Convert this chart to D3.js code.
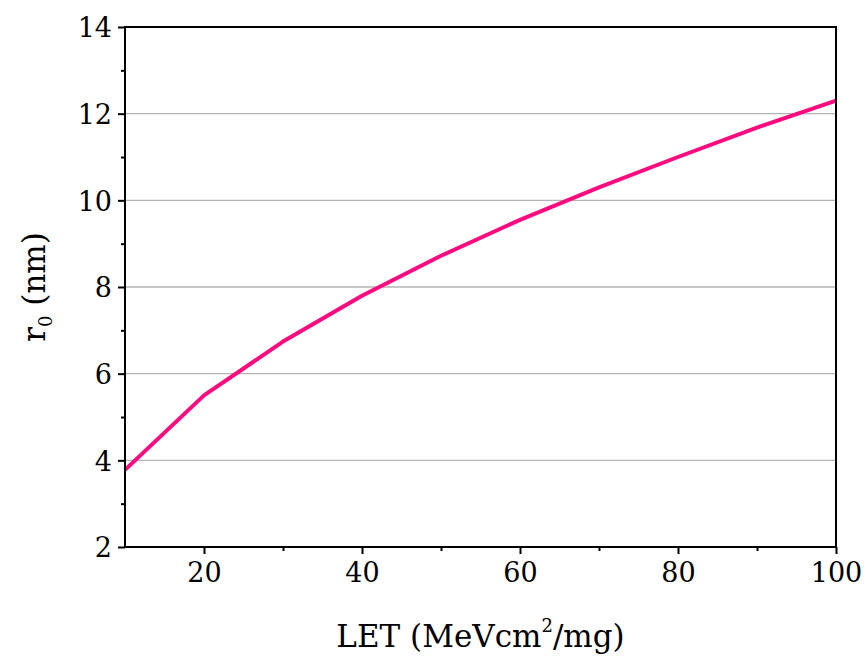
<!DOCTYPE html>
<html><head><meta charset="utf-8">
<script src="https://d3js.org/d3.v7.min.js"></script>
<style>body{margin:0;background:#fff}</style>
</head><body>
<script>
const letValues = [10, 20, 30, 40, 50, 60, 70, 80, 90, 100];
const r0Values = [3.78, 5.5, 6.74, 7.8, 8.72, 9.55, 10.3, 11.0, 11.68, 12.3];
const xTicks = [20, 40, 60, 80, 100];
const xMinor = [30, 50, 70, 90];
const yTicks = [2, 4, 6, 8, 10, 12, 14];
const yMinor = [3, 5, 7, 9, 11, 13];
const gridLines = [4, 6, 8, 10, 12];

const W = 866, H = 658;
const m = {left: 125, right: 30, top: 27, bottom: 111};
const svg = d3.select("body").append("svg").attr("width", W).attr("height", H);
const x = d3.scaleLinear().domain([10, 100]).range([m.left, W - m.right]);
const y = d3.scaleLinear().domain([2, 14]).range([H - m.bottom, m.top]);
const font = "'DejaVu Serif', 'Liberation Serif', serif";

svg.append("g").selectAll("line").data(gridLines).join("line")
  .attr("x1", x(10)).attr("x2", x(100)).attr("y1", d => y(d)).attr("y2", d => y(d))
  .attr("stroke", "#b4b4b4").attr("stroke-width", 1.3);

const line = d3.line().x((d, i) => x(letValues[i])).y(d => y(d));
svg.append("path").datum(r0Values).attr("d", line)
  .attr("fill", "none").attr("stroke", "#ff0a7f").attr("stroke-width", 4).attr("stroke-linejoin", "round");

svg.append("rect").attr("x", x(10)).attr("y", y(14)).attr("width", x(100) - x(10)).attr("height", y(2) - y(14))
  .attr("fill", "none").attr("stroke", "#000").attr("stroke-width", 2);

const xAxis = svg.append("g").attr("transform", `translate(0,${y(2)})`)
  .call(d3.axisBottom(x).tickValues(xTicks).tickSize(7).tickPadding(8).tickFormat(d3.format("d")));
const xAxisMinor = svg.append("g").attr("transform", `translate(0,${y(2)})`)
  .call(d3.axisBottom(x).tickValues(xMinor).tickSize(4).tickFormat(""));
const yAxis = svg.append("g").attr("transform", `translate(${x(10)},0)`)
  .call(d3.axisLeft(y).tickValues(yTicks).tickSize(7).tickPadding(6).tickFormat(d3.format("d")));
const yAxisMinor = svg.append("g").attr("transform", `translate(${x(10)},0)`)
  .call(d3.axisLeft(y).tickValues(yMinor).tickSize(4).tickFormat(""));

[xAxis, xAxisMinor, yAxis, yAxisMinor].forEach(g => {
  g.select(".domain").remove();
  g.selectAll("line").attr("stroke", "#000").attr("stroke-width", 2);
  g.selectAll("text").attr("font-family", font).attr("font-size", 27).attr("fill", "#000");
});
xAxis.selectAll("text").attr("dy", "0.75em");
yAxis.selectAll("text").attr("dy", "0.36em");

const xt = svg.append("text").attr("x", (x(10) + x(100)) / 2).attr("y", 647)
  .attr("text-anchor", "middle").attr("font-family", font).attr("font-size", 31).attr("fill", "#000");
xt.append("tspan").text("LET (MeVcm");
xt.append("tspan").text("2").attr("font-size", 18).attr("dy", -15);
xt.append("tspan").text("/mg)").attr("dy", 15);

const yt = svg.append("text").attr("transform", `translate(45,${(y(2) + y(14)) / 2}) rotate(-90)`)
  .attr("text-anchor", "middle").attr("font-family", font).attr("font-size", 31).attr("fill", "#000");
yt.append("tspan").text("r");
yt.append("tspan").text("0").attr("font-size", 18).attr("dy", 7);
yt.append("tspan").text(" (nm)").attr("dy", -7);
</script>
</body></html>
